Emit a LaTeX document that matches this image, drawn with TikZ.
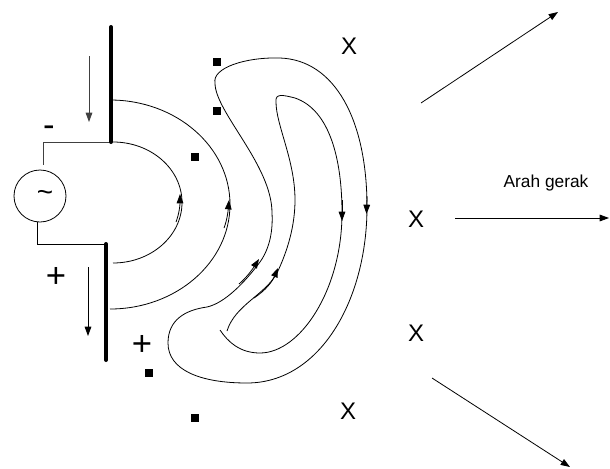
\documentclass[tikz,border=0pt]{standalone}
\usepackage{fontspec}
\setmainfont{Liberation Sans}
\usetikzlibrary{arrows.meta}

\begin{document}
\begin{tikzpicture}[x=0.75pt,y=0.75pt,yscale=-1,xscale=1,
    line width=0.6pt,
    tip/.style={-{Triangle[length=7pt,width=5pt]}},
    rod/.style={line width=3pt,line cap=round},
    dot/.style={fill=black,inner sep=0pt,minimum size=6pt},
    sign/.style={font=\fontsize{26}{26}\selectfont,inner sep=0.75pt},
    cross/.style={font=\fontsize{18}{18}\selectfont,inner sep=0.75pt}]
    \useasboundingbox (0,0) rectangle (610,468);

    %AC source and feed wires
    \node [draw,circle,minimum size=39pt,inner sep=0pt] (src) at (40,196) {};
    \node [font=\fontsize{21}{21}\selectfont,inner sep=0pt] (tilde) at (45,196) {\textasciitilde};
    \coordinate (topFeed) at (111,142);
    \coordinate (topTip) at (111,27);
    \coordinate (srcIn) at (43,165);
    \coordinate (srcOut) at (37,222);
    \coordinate (botFeed) at (106,244);
    \coordinate (botTip) at (106,360);
    \draw [black!75] (topFeed) -| (srcIn);
    \draw (srcOut) |- (botFeed);
    %Antenna rods
    \draw [rod] (topTip) -- (topFeed);
    \draw [rod] (botFeed) -- (botTip);

    %Current arrows
    \coordinate (iTopA) at (89,56);
    \coordinate (iTopB) at (89,122);
    \coordinate (iBotA) at (88,267);
    \coordinate (iBotB) at (88,336);
    \draw [tip,black!75] (iTopA) -- (iTopB);
    \draw [tip] (iBotA) -- (iBotB);

    % Text Node
    \node [sign] (minus) at (49,131) {-};
    % Text Node
    \node [sign] (plusL) at (56,277) {+};
    % Text Node
    \node [sign] (plusR) at (142,345) {+};

    %Field lines attached to the rods
    \draw (113,142) arc[start angle=-90,end angle=90,x radius=69,y radius=60.5];
    \draw (110,100) arc[start angle=-90,end angle=90,x radius=120,y radius=104.5];
    \draw [tip] (176,222) .. controls (179,214) and (180,206) .. (180,194);
    \draw [tip] (224,228) .. controls (227,220) and (228,212) .. (229,200);

    %Detached loop, outer
    \draw (215,83) .. controls (212,68) and (245,57) .. (280,58)
        .. controls (335,60) and (367,120) .. (367,207)
        .. controls (367,300) and (320,383) .. (247,383)
        .. controls (200,383) and (168,370) .. (168,343)
        .. controls (168,320) and (185,310) .. (207,307)
        .. controls (225,303) and (245,282) .. (260,262)
        .. controls (270,248) and (273,230) .. (272,213)
        .. controls (272,165) and (215,112) .. cycle;
    \draw [tip] (367,196) -- (366.5,214);
    \draw [tip] (239,284) .. controls (246,278) and (252,270) .. (259,259);

    %Detached loop, inner
    \draw (227,331) .. controls (235,305) and (265,295) .. (277,273)
        .. controls (288,250) and (295,225) .. (295,200)
        .. controls (295,160) and (276,125) .. (276,102)
        .. controls (275,93) and (283,95) .. (295,98)
        .. controls (330,110) and (342,160) .. (342,213)
        .. controls (342,290) and (300,353) .. (260,353)
        .. controls (240,353) and (228,342) .. (220,330);
    \draw [tip] (342,200) -- (342,221);
    \draw [tip] (254,298) .. controls (266,290) and (272,282) .. (278,268);

    %Charges
    \node [dot] (q1) at (217,62) {};
    \node [dot] (q2) at (217,111) {};
    \node [dot] (q3) at (195,157) {};
    \node [dot] (q4) at (149,373) {};
    \node [dot] (q5) at (195,418) {};

    % Text Node
    \node [cross] (x1) at (349,46) {X};
    % Text Node
    \node [cross] (x2) at (416,219) {X};
    % Text Node
    \node [cross] (x3) at (416,333) {X};
    % Text Node
    \node [cross] (x4) at (348,411) {X};

    %Radiated wave directions
    \coordinate (upA) at (421,103);
    \coordinate (upB) at (558,12);
    \coordinate (midA) at (455,218);
    \coordinate (midB) at (609,218);
    \coordinate (lowA) at (432,378);
    \coordinate (lowB) at (570,467);
    \draw [tip] (upA) -- (upB);
    \draw [tip] (midA) -- (midB);
    \draw [tip] (lowA) -- (lowB);
    % Text Node
    \node [font=\fontsize{13}{15}\selectfont,inner sep=0.75pt] (dir) at (546,183) {Arah gerak};

\end{tikzpicture}
\end{document}
